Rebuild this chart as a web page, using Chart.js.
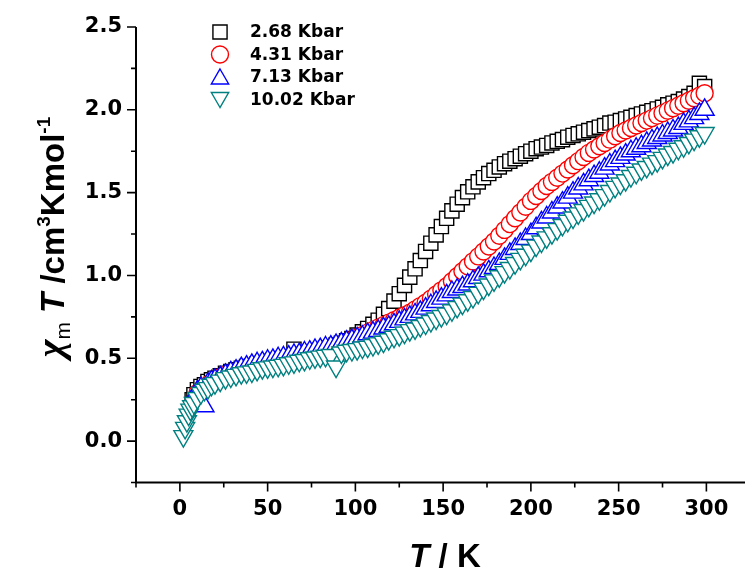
<!DOCTYPE html>
<html>
<head>
<meta charset="utf-8">
<script src="https://cdn.jsdelivr.net/npm/chart.js@4.4.1/dist/chart.umd.min.js"></script>
<style>
  html, body { margin: 0; padding: 0; background: #fff; overflow: hidden; }
  #chart { display: block; }
</style>
</head>
<body>
<canvas id="chart" width="745" height="575"></canvas>
<script>
// temperatures (K), shared by the four pressures
const temps = [2, 3, 4, 5, 6, 7, 8, 10, 12, 14, 16, 18,
  20, 23, 26, 29, 32, 35, 38, 41, 44, 47,
  50, 53, 56, 59, 62, 65, 68, 71, 74, 77,
  80, 83, 86, 89, 92, 95, 98, 101, 104, 107,
  110, 113, 116, 119, 122, 125, 128, 131, 134, 137,
  140, 143, 146, 149, 152, 155, 158, 161, 164, 167,
  170, 173, 176, 179, 182, 185, 188, 191, 194, 197,
  200, 203, 206, 209, 212, 215, 218, 221, 224, 227,
  230, 233, 236, 239, 242, 245, 248, 251, 254, 257,
  260, 263, 266, 269, 272, 275, 278, 281, 284, 287,
  290, 293, 296, 299];

// chi_m T (cm3 K mol-1) at each pressure
const kbar268 = [null, null, null, null, null, 0.25, 0.28, 0.31, 0.33, 0.34, 0.36, 0.37,
  0.38, 0.395, 0.41, 0.42, 0.43, 0.44, 0.45, 0.455, 0.465, 0.47,
  0.48, 0.485, 0.49, 0.50, 0.505, 0.555, 0.52, 0.525, 0.535, 0.54,
  0.55, 0.56, 0.57, 0.58, 0.59, 0.605, 0.62, 0.64, 0.66, 0.68,
  0.705, 0.73, 0.765, 0.80, 0.845, 0.89, 0.94, 0.99, 1.04, 1.09,
  1.145, 1.195, 1.245, 1.295, 1.345, 1.39, 1.43, 1.47, 1.505, 1.535,
  1.565, 1.59, 1.615, 1.635, 1.655, 1.675, 1.69, 1.705, 1.72, 1.735,
  1.75, 1.765, 1.775, 1.785, 1.80, 1.81, 1.82, 1.835, 1.845, 1.855,
  1.865, 1.875, 1.885, 1.895, 1.905, 1.92, 1.925, 1.935, 1.945, 1.955,
  1.965, 1.975, 1.985, 1.995, 2.005, 2.015, 2.03, 2.04, 2.05, 2.065,
  2.08, 2.10, 2.16, 2.14];

const kbar431 = [null, null, null, null, null, null, null, 0.29, 0.31, 0.325, 0.34, 0.355,
  0.37, 0.385, 0.40, 0.41, 0.42, 0.43, 0.44, 0.45, 0.455, 0.465,
  0.47, 0.48, 0.485, 0.49, 0.50, 0.505, 0.515, 0.52, 0.53, 0.535,
  0.545, 0.55, 0.56, 0.57, 0.58, 0.595, 0.61, 0.625, 0.64, 0.655,
  0.67, 0.685, 0.70, 0.715, 0.73, 0.745, 0.76, 0.775, 0.795, 0.815,
  0.835, 0.86, 0.885, 0.91, 0.935, 0.965, 0.995, 1.025, 1.055, 1.085,
  1.115, 1.145, 1.175, 1.205, 1.24, 1.275, 1.31, 1.345, 1.38, 1.415,
  1.45, 1.48, 1.51, 1.54, 1.565, 1.59, 1.615, 1.64, 1.665, 1.69,
  1.715, 1.74, 1.76, 1.78, 1.80, 1.82, 1.84, 1.86, 1.875, 1.89,
  1.905, 1.92, 1.935, 1.95, 1.965, 1.98, 1.995, 2.01, 2.025, 2.04,
  2.055, 2.07, 2.085, 2.10];

const kbar713 = [null, null, null, null, null, null, 0.27, 0.30, 0.32, 0.21, 0.345, 0.36,
  0.37, 0.385, 0.40, 0.415, 0.425, 0.44, 0.45, 0.46, 0.47, 0.475,
  0.485, 0.49, 0.50, 0.505, 0.51, 0.52, 0.525, 0.535, 0.54, 0.55,
  0.555, 0.565, 0.57, 0.58, 0.59, 0.60, 0.61, 0.62, 0.63, 0.645,
  0.655, 0.665, 0.68, 0.69, 0.705, 0.72, 0.735, 0.75, 0.765, 0.78,
  0.80, 0.82, 0.84, 0.86, 0.88, 0.90, 0.915, 0.93, 0.945, 0.965,
  0.985, 1.005, 1.025, 1.045, 1.07, 1.10, 1.13, 1.16, 1.19, 1.22,
  1.25, 1.285, 1.32, 1.35, 1.38, 1.41, 1.44, 1.47, 1.50, 1.525,
  1.55, 1.575, 1.60, 1.62, 1.645, 1.67, 1.69, 1.71, 1.73, 1.75,
  1.765, 1.78, 1.80, 1.815, 1.83, 1.845, 1.86, 1.875, 1.89, 1.915,
  1.93, 1.95, 1.975, 2.00];

const kbar1002 = [0.03, 0.08, 0.12, 0.16, 0.19, 0.21, 0.23, 0.26, 0.29, 0.31, 0.32, 0.34,
  0.35, 0.365, 0.38, 0.39, 0.40, 0.41, 0.415, 0.42, 0.43, 0.44,
  0.445, 0.45, 0.455, 0.46, 0.47, 0.475, 0.485, 0.49, 0.50, 0.505,
  0.51, 0.515, 0.52, 0.45, 0.535, 0.545, 0.55, 0.555, 0.565, 0.57,
  0.58, 0.59, 0.60, 0.615, 0.63, 0.64, 0.655, 0.67, 0.68, 0.695,
  0.71, 0.725, 0.74, 0.755, 0.77, 0.79, 0.81, 0.83, 0.85, 0.87,
  0.895, 0.92, 0.945, 0.97, 0.995, 1.02, 1.045, 1.075, 1.10, 1.125,
  1.15, 1.18, 1.205, 1.23, 1.255, 1.28, 1.305, 1.33, 1.35, 1.375,
  1.395, 1.42, 1.44, 1.46, 1.485, 1.51, 1.535, 1.555, 1.575, 1.60,
  1.62, 1.64, 1.655, 1.675, 1.69, 1.71, 1.73, 1.745, 1.765, 1.78,
  1.80, 1.82, 1.84, 1.86];

const seriesLabels = ['2.68 Kbar', '4.31 Kbar', '7.13 Kbar', '10.02 Kbar'];
const xTicks = [-25, 0, 25, 50, 75, 100, 125, 150, 175, 200, 225, 250, 275, 300];
const yTicks = [-0.25, 0, 0.25, 0.5, 0.75, 1, 1.25, 1.5, 1.75, 2, 2.25, 2.5];

// hollow, white filled symbols (later points cover earlier ones)
const markers = [
  { color: '#000000', style: 'rect', radius: 10, rotation: 0 },
  { color: '#ff0000', style: 'circle', radius: 8.5, rotation: 0 },
  { color: '#0000ff', style: 'triangle', radius: 11, rotation: 0 },
  { color: '#008080', style: 'triangle', radius: 11, rotation: 180 },
];

function toPoints(values) {
  const pts = [];
  temps.forEach((t, i) => {
    if (values[i] !== null) pts.push({ x: t, y: values[i] });
  });
  return pts;
}

const isMajorY = v => Math.abs(v * 2 - Math.round(v * 2)) < 1e-6;

// axis lines, tick marks, titles and the legend
const decorPlugin = {
  id: 'decor',
  beforeDatasetsDraw(chart) {
    const { ctx, chartArea: a, scales: { x, y } } = chart;
    ctx.save();
    ctx.strokeStyle = '#000';
    ctx.lineWidth = 2;
    ctx.beginPath();
    ctx.moveTo(a.left, a.top);
    ctx.lineTo(a.left, a.bottom + 1);
    ctx.moveTo(a.left - 1, a.bottom);
    ctx.lineTo(chart.width, a.bottom);
    ctx.stroke();
    ctx.lineWidth = 1.6;
    ctx.beginPath();
    yTicks.forEach(v => {
      const py = y.getPixelForValue(v);
      const len = isMajorY(v) ? 9 : 5;
      ctx.moveTo(a.left, py);
      ctx.lineTo(a.left - len, py);
    });
    xTicks.forEach(v => {
      const px = x.getPixelForValue(v);
      const len = v % 50 === 0 ? 9 : 5;
      ctx.moveTo(px, a.bottom);
      ctx.lineTo(px, a.bottom + len);
    });
    ctx.stroke();
    ctx.restore();
  },
  afterDraw(chart) {
    const ctx = chart.ctx;
    ctx.save();
    ctx.fillStyle = '#000';
    ctx.textBaseline = 'alphabetic';

    // y title, rotated
    const sans = '"Liberation Sans", Arial, sans-serif';
    const parts = [
      { t: 'χ', f: 'italic bold 38px "Liberation Serif", "DejaVu Serif", serif', dy: -1 },
      { t: 'm', f: '21px ' + sans, dy: 6 },
      { t: ' ', f: 'bold 33px ' + sans, dy: 0 },
      { t: 'T', f: 'italic bold 33px ' + sans, dy: 0 },
      { t: ' /cm', f: 'bold 33px ' + sans, dy: 0 },
      { t: '3', f: 'bold 19px ' + sans, dy: -14 },
      { t: 'Kmol', f: 'bold 33px ' + sans, dy: 0 },
      { t: '-1', f: 'bold 19px ' + sans, dy: -14 },
    ];
    let total = 0;
    parts.forEach(p => { ctx.font = p.f; p.w = ctx.measureText(p.t).width; total += p.w; });
    ctx.translate(64, 237);
    ctx.rotate(-Math.PI / 2);
    let cx = -total / 2;
    parts.forEach(p => {
      ctx.font = p.f;
      ctx.fillText(p.t, cx, p.dy);
      cx += p.w;
    });
    ctx.setTransform(1, 0, 0, 1, 0, 0);

    // x title
    const fa = 'italic bold 33px ' + sans;
    const fb = 'bold 33px ' + sans;
    ctx.font = fa; const wa = ctx.measureText('T').width;
    ctx.font = fb; const wb = ctx.measureText(' / K').width;
    const sx = 445 - (wa + wb) / 2;
    ctx.font = fa; ctx.fillText('T', sx, 567);
    ctx.font = fb; ctx.fillText(' / K', sx + wa, 567);

    // legend
    ctx.textBaseline = 'middle';
    ctx.font = 'bold 17px "DejaVu Sans", sans-serif';
    seriesLabels.forEach((lab, i) => {
      const ly = 32 + i * 22.5;
      const m = markers[i];
      ctx.save();
      ctx.fillStyle = '#fff';
      ctx.strokeStyle = m.color;
      ctx.lineWidth = 1.4;
      Chart.helpers.drawPoint(ctx, {
        pointStyle: m.style, radius: m.style === 'triangle' ? 10 : m.radius, rotation: m.rotation, borderWidth: 1.4,
      }, 220, ly + (m.style === 'triangle' ? (m.rotation ? -2 : 2) : 0));
      ctx.restore();
      ctx.fillText(lab, 250, ly + 1);
    });
    ctx.restore();
  }
};

const tickFont = { family: '"DejaVu Sans", sans-serif', size: 21, weight: 'bold' };

const chart = new Chart(document.getElementById('chart'), {
  type: 'scatter',
  data: {
    datasets: [kbar268, kbar431, kbar713, kbar1002].map((vals, i) => ({
      label: seriesLabels[i],
      data: toPoints(vals),
      pointStyle: markers[i].style,
      pointRadius: markers[i].radius,
      pointRotation: markers[i].rotation,
      pointBorderColor: markers[i].color,
      pointBackgroundColor: '#ffffff',
      pointBorderWidth: 1.4,
      order: 4 - i,
    })),
  },
  options: {
    responsive: false,
    animation: false,
    devicePixelRatio: 1,
    layout: { autoPadding: false, padding: { top: 27, right: 0, bottom: 0, left: 0 } },
    plugins: { legend: { display: false }, tooltip: { enabled: false } },
    scales: {
      x: {
        type: 'linear',
        min: -25,
        max: 322,
        grid: { display: false, drawTicks: false },
        border: { display: false },
        afterBuildTicks: s => { s.ticks = xTicks.map(v => ({ value: v })); },
        afterFit: s => { s.height = 92.5; },
        ticks: {
          color: '#000',
          font: tickFont,
          padding: 14,
          maxRotation: 0,
          autoSkip: false,
          callback: v => (v % 50 === 0 ? String(v) : ''),
        },
      },
      y: {
        type: 'linear',
        min: -0.25,
        max: 2.5,
        grid: { display: false, drawTicks: false },
        border: { display: false },
        afterBuildTicks: s => { s.ticks = yTicks.map(v => ({ value: v })); },
        afterFit: s => { s.width = 136; },
        ticks: {
          color: '#000',
          font: tickFont,
          padding: 14,
          autoSkip: false,
          callback: v => (isMajorY(v) ? v.toFixed(1) : ''),
        },
      },
    },
  },
  plugins: [decorPlugin],
});
</script>
</body>
</html>
